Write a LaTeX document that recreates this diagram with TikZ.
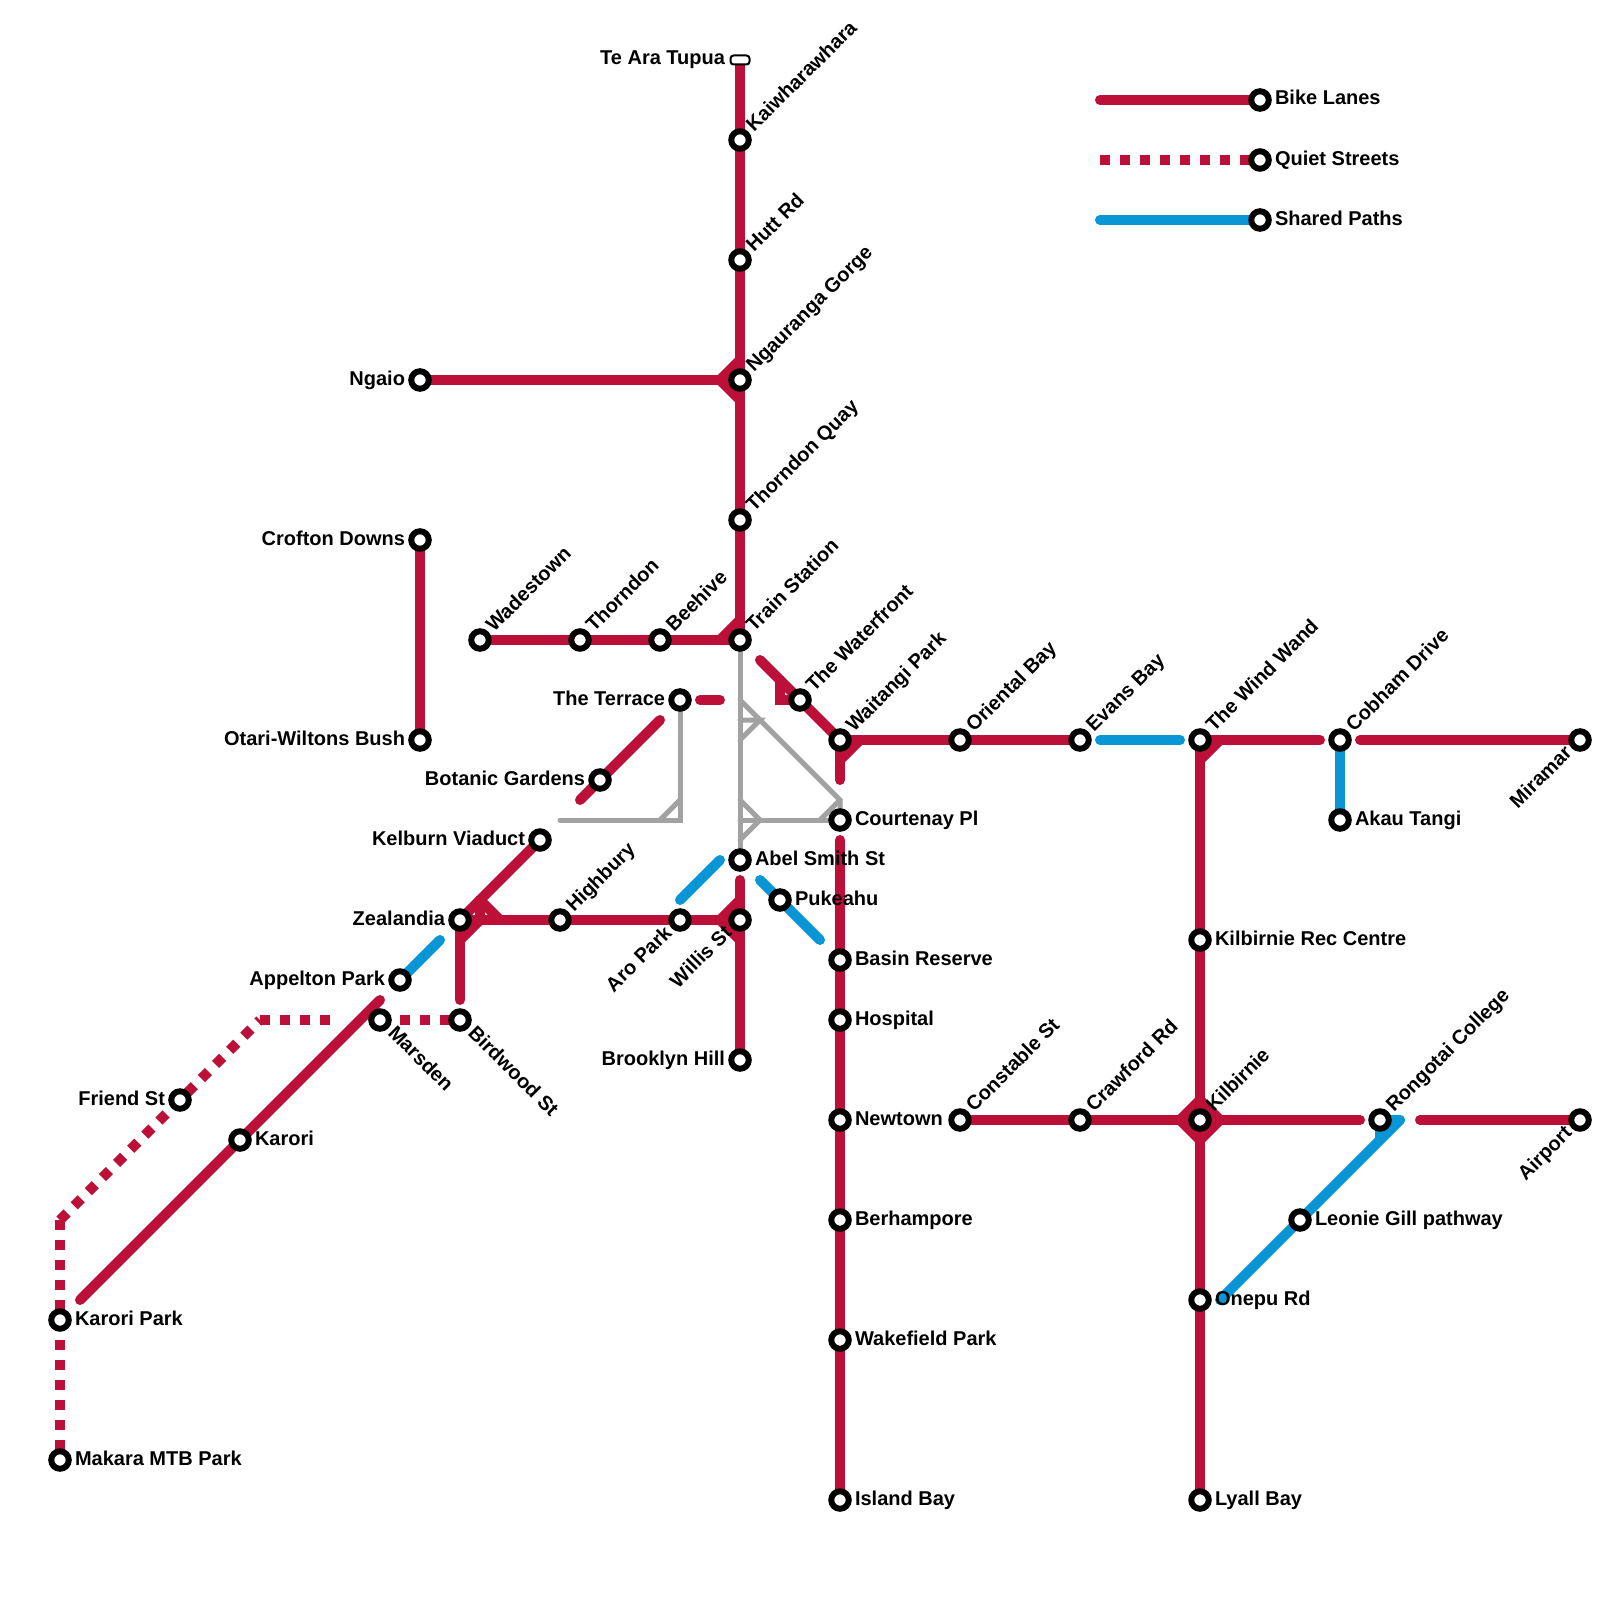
\documentclass[tikz,border=0pt]{standalone}
\usepackage{fontspec}
\setmainfont{Liberation Sans}
\definecolor{crim}{HTML}{BD1038}
\definecolor{sky}{HTML}{0896D7}
\definecolor{ash}{HTML}{A2A2A2}
\pgfdeclarelayer{lines}
\pgfdeclarelayer{front}
\pgfsetlayers{lines,main,front}
\tikzset{
  stndot/.style={circle,draw=black,fill=white,line width=6pt,minimum size=17.5pt,inner sep=0pt,outer sep=0pt},
  termbox/.style={rectangle,rounded corners=3pt,draw=black,fill=white,line width=2pt,minimum width=19pt,minimum height=9pt,inner sep=0pt,outer sep=0pt},
  lab/.style={inner sep=0pt,outer sep=0pt,text=black,font=\fontsize{20pt}{24pt}\selectfont\bfseries},
  lblE/.style={lab,xshift=15pt,yshift=-5pt,anchor=base west},
  lblW/.style={lab,xshift=-15pt,yshift=-5pt,anchor=base east},
  lblNE/.style={lab,xshift=14.14pt,yshift=7.07pt,rotate=45,anchor=base west},
  lblSW/.style={lab,xshift=-7.07pt,yshift=-14.14pt,rotate=45,anchor=base east},
  lblSE/.style={lab,xshift=7.07pt,yshift=-14.14pt,rotate=-45,anchor=base west},
  redline/.style={draw=crim,line width=10pt,line cap=round,line join=miter},
  blueline/.style={draw=sky,line width=10pt,line cap=round,line join=round},
  greyline/.style={draw=ash,line width=5pt,line cap=round,line join=miter},
  quietline/.style={draw=crim,line width=10pt,line cap=butt,dash pattern=on 10pt off 10pt},
}
\newcommand{\stn}[5]{%
  \node[stndot] (#1) at (#2,#3) {};
  \begin{pgfonlayer}{front}\node[#4] (#1-l) at (#1) {#5};\end{pgfonlayer}}
\begin{document}
\begin{tikzpicture}[x=1pt,y=-1pt]
\useasboundingbox (0,0) rectangle (1600,1600);
\begin{pgfonlayer}{lines}\fill[white] (0,0) rectangle (1600,1600);\end{pgfonlayer}
% terminal
\node[termbox] (tupua) at (740,60) {};
\begin{pgfonlayer}{front}\node[lblW] (tupua-l) at (tupua) {Te Ara Tupua};\end{pgfonlayer}
% stations
\stn{kaiw}{740}{140}{lblNE}{Kaiwharawhara}
\stn{hutt}{740}{260}{lblNE}{Hutt Rd}
\stn{ngau}{740}{380}{lblNE}{Ngauranga Gorge}
\stn{thoq}{740}{520}{lblNE}{Thorndon Quay}
\stn{train}{740}{640}{lblNE}{Train Station}
\stn{ngaio}{420}{380}{lblW}{Ngaio}
\stn{crof}{420}{540}{lblW}{Crofton Downs}
\stn{otari}{420}{740}{lblW}{Otari-Wiltons Bush}
\stn{wade}{480}{640}{lblNE}{Wadestown}
\stn{thor}{580}{640}{lblNE}{Thorndon}
\stn{bee}{660}{640}{lblNE}{Beehive}
\stn{terr}{680}{700}{lblW}{The Terrace}
\stn{bota}{600}{780}{lblW}{Botanic Gardens}
\stn{kelb}{540}{840}{lblW}{Kelburn Viaduct}
\stn{high}{560}{920}{lblNE}{Highbury}
\stn{zeal}{460}{920}{lblW}{Zealandia}
\stn{aro}{680}{920}{lblSW}{Aro Park}
\stn{will}{740}{920}{lblSW}{Willis St}
\stn{abel}{740}{860}{lblE}{Abel Smith St}
\stn{puke}{780}{900}{lblE}{Pukeahu}
\stn{wfnt}{800}{700}{lblNE}{The Waterfront}
\stn{wait}{840}{740}{lblNE}{Waitangi Park}
\stn{orie}{960}{740}{lblNE}{Oriental Bay}
\stn{evan}{1080}{740}{lblNE}{Evans Bay}
\stn{wind}{1200}{740}{lblNE}{The Wind Wand}
\stn{cobh}{1340}{740}{lblNE}{Cobham Drive}
\stn{mira}{1580}{740}{lblSW}{Miramar}
\stn{akau}{1340}{820}{lblE}{Akau Tangi}
\stn{cour}{840}{820}{lblE}{Courtenay Pl}
\stn{basi}{840}{960}{lblE}{Basin Reserve}
\stn{hosp}{840}{1020}{lblE}{Hospital}
\stn{newt}{840}{1120}{lblE}{Newtown}
\stn{berh}{840}{1220}{lblE}{Berhampore}
\stn{wake}{840}{1340}{lblE}{Wakefield Park}
\stn{isla}{840}{1500}{lblE}{Island Bay}
\stn{cons}{960}{1120}{lblNE}{Constable St}
\stn{craw}{1080}{1120}{lblNE}{Crawford Rd}
\stn{kilb}{1200}{1120}{lblNE}{Kilbirnie}
\stn{rong}{1380}{1120}{lblNE}{Rongotai College}
\stn{airp}{1580}{1120}{lblSW}{Airport}
\stn{leon}{1300}{1220}{lblE}{Leonie Gill pathway}
\stn{onep}{1200}{1300}{lblE}{Onepu Rd}
\stn{lyal}{1200}{1500}{lblE}{Lyall Bay}
\stn{krec}{1200}{940}{lblE}{Kilbirnie Rec Centre}
\stn{brok}{740}{1060}{lblW}{Brooklyn Hill}
\stn{appe}{400}{980}{lblW}{Appelton Park}
\stn{mars}{380}{1020}{lblSE}{Marsden}
\stn{bird}{460}{1020}{lblSE}{Birdwood St}
\stn{frie}{180}{1100}{lblW}{Friend St}
\stn{karo}{240}{1140}{lblE}{Karori}
\stn{kpark}{60}{1320}{lblE}{Karori Park}
\stn{maka}{60}{1460}{lblE}{Makara MTB Park}
\stn{lgbike}{1260}{100}{lblE}{Bike Lanes}
\stn{lgquiet}{1260}{160}{lblE}{Quiet Streets}
\stn{lgshare}{1260}{220}{lblE}{Shared Paths}
% free ends and bends
\coordinate (a1) at (720,380); \coordinate (a2) at (740,360); \coordinate (a3) at (740,400);
\coordinate (b1) at (720,640); \coordinate (b2) at (740,620);
\coordinate (c1) at (720,920); \coordinate (c2) at (740,900); \coordinate (c3) at (740,940); \coordinate (c4) at (740,880);
\coordinate (d1) at (760,660); \coordinate (d2) at (780,680); \coordinate (d3) at (780,700);
\coordinate (e1) at (840,780); \coordinate (e2) at (840,760); \coordinate (e3) at (860,740);
\coordinate (f1) at (700,700); \coordinate (f2) at (720,700);
\coordinate (g1) at (580,800); \coordinate (g2) at (660,720);
\coordinate (h1) at (460,1000); \coordinate (h2) at (460,940); \coordinate (h3) at (480,920); \coordinate (h4) at (480,900); \coordinate (h5) at (500,920);
\coordinate (i1) at (80,1300); \coordinate (i2) at (380,1000);
\coordinate (j1) at (1200,760); \coordinate (j2) at (1220,740); \coordinate (j3) at (1320,740); \coordinate (j4) at (1360,740);
\coordinate (k1) at (840,840);
\coordinate (m1) at (1180,1120); \coordinate (m2) at (1200,1100); \coordinate (m3) at (1220,1120); \coordinate (m4) at (1200,1140);
\coordinate (m5) at (1360,1120); \coordinate (m6) at (1420,1120);
\coordinate (n1) at (1100,740); \coordinate (n2) at (1180,740);
\coordinate (o1) at (680,900); \coordinate (o2) at (720,860);
\coordinate (p1) at (440,940);
\coordinate (q1) at (760,880); \coordinate (q2) at (820,940);
\coordinate (r1) at (1220,1300); \coordinate (r2) at (1400,1120); \coordinate (r3) at (1380,1140);
\coordinate (s1) at (60,1220); \coordinate (s2) at (260,1020); \coordinate (s3) at (340,1020); \coordinate (s4) at (400,1020);
\coordinate (t1) at (1100,100); \coordinate (t2) at (1100,160); \coordinate (t3) at (1100,220);
\coordinate (u1) at (740,700); \coordinate (u2) at (840,800); \coordinate (u3) at (820,820);
\coordinate (u4) at (760,820); \coordinate (u5) at (740,800); \coordinate (u6) at (740,840); \coordinate (u7) at (740,820);
\coordinate (u8) at (760,720); \coordinate (u9) at (740,720); \coordinate (u10) at (740,740);
\coordinate (v1) at (680,820); \coordinate (v2) at (560,820); \coordinate (v3) at (660,820); \coordinate (v4) at (680,800);
\begin{pgfonlayer}{lines}
% grey
\draw[greyline] (train.center) -- (abel.center);
\draw[greyline] (u1) -- (u2) -- (cour.center);
\draw[greyline] (u2) -- (u3);
\draw[greyline] (u4) -- (cour.center);
\draw[greyline] (u5) -- (u4) -- (u6);
\draw[greyline] (u7) -- (u4);
\draw[greyline] (u9) -- (u8) -- (u10);
\draw[greyline] (terr.center) -- (v1) -- (v2);
\draw[greyline] (v3) -- (v4);
% red
\draw[redline] (tupua.center) -- (train.center);
\draw[redline] (ngaio.center) -- (ngau.center);
\draw[redline] (a2) -- (a1) -- (a3);
\draw[redline] (wade.center) -- (train.center);
\draw[redline] (b1) -- (b2);
\draw[redline] (crof.center) -- (otari.center);
\draw[redline] (f1) -- (f2);
\draw[redline] (d1) -- (wait.center);
\draw[redline] (d2) -- (d3) -- (wfnt.center);
\draw[redline] (wait.center) -- (e1);
\draw[redline] (e2) -- (e3);
\draw[redline] (wait.center) -- (evan.center);
\draw[redline] (wind.center) -- (j3);
\draw[redline] (j1) -- (j2);
\draw[redline] (wind.center) -- (lyal.center);
\draw[redline] (j4) -- (mira.center);
\draw[redline] (g1) -- (g2);
\draw[redline] (kelb.center) -- (zeal.center);
\draw[redline] (zeal.center) -- (h1);
\draw[redline] (h2) -- (h3);
\draw[redline] (h4) -- (h5);
\draw[redline] (h4) -- (h3);
\draw[redline] (zeal.center) -- (will.center);
\draw[redline] (c4) -- (brok.center);
\draw[redline] (c2) -- (c1) -- (c3);
\draw[redline] (k1) -- (isla.center);
\draw[redline] (cons.center) -- (m5);
\draw[redline] (m6) -- (airp.center);
\draw[redline,line join=round] (m1) -- (m2) -- (m3) -- (m4) -- cycle;
\draw[redline] (i1) -- (i2);
% quiet
\draw[quietline] (s1) -- (maka.center);
\draw[quietline] (s1) -- (s2);
\draw[quietline] (s2) -- (s3);
\draw[quietline] (s4) -- (bird.center);
% blue
\draw[blueline] (n1) -- (n2);
\draw[blueline] (cobh.center) -- (akau.center);
\draw[blueline] (o1) -- (o2);
\draw[blueline] (appe.center) -- (p1);
\draw[blueline] (q1) -- (q2);
\draw[blueline] (r1) -- (r2) -- (rong.center) -- (r3);
% legend
\draw[redline] (t1) -- (lgbike.center);
\draw[quietline] (t2) -- (lgquiet.center);
\draw[blueline] (t3) -- (lgshare.center);
\end{pgfonlayer}
\end{tikzpicture}
\end{document}
